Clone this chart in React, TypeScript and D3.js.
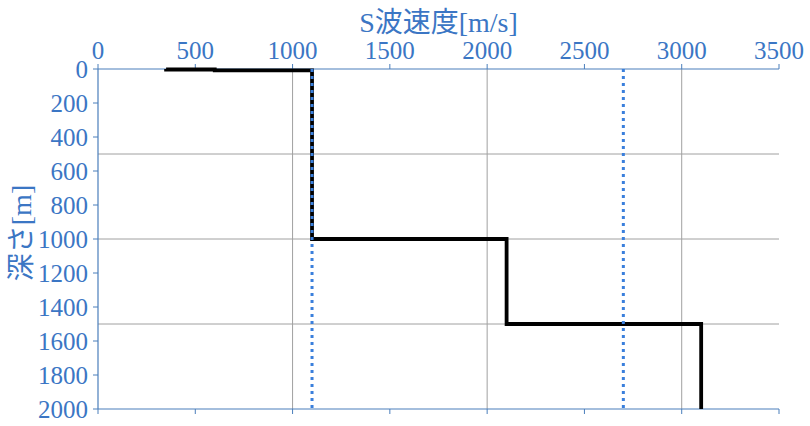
import React from "react";
import * as d3 from "d3";

const xTicks = [0, 500, 1000, 1500, 2000, 2500, 3000, 3500];
const yTicks = [0, 200, 400, 600, 800, 1000, 1200, 1400, 1600, 1800, 2000];
const xGrid = [1000, 2000, 3000];
const yGrid = [500, 1000, 1500];
const profileVs = [350, 350, 600, 600, 1100, 1100, 2100, 2100, 3100, 3100];
const profileDepth = [0, 3, 3, 8, 8, 1000, 1000, 1500, 1500, 2000];
const refLines = [1100, 2700];

const W = 810, H = 426;
const left = 98, right = 779, top = 69, bottom = 409;
const blueText = "#3b76c4";
const axisBlue = "#4a7ebb";

export default function App() {
  const x = d3.scaleLinear().domain([0, 3500]).range([left, right]);
  const y = d3.scaleLinear().domain([0, 2000]).range([top, bottom]);
  const pts: [number, number][] = profileVs.map((v, i) => [v, profileDepth[i]]);
  const line = d3.line<[number, number]>().x(d => x(d[0])).y(d => y(d[1]));
  const ts = { fontFamily: '"Liberation Serif", "Times New Roman", serif' };
  const cjk = { fontFamily: '"Liberation Serif", "Noto Sans CJK JP", serif' };
  return (
    <svg width={W} height={H} style={{ position: "absolute", left: 0, top: 0, background: "#fff" }}>
      {xGrid.map(v => (
        <line key={"xg" + v} x1={x(v)} x2={x(v)} y1={top} y2={bottom} stroke="#a0a0a0" strokeWidth={1} />
      ))}
      {yGrid.map(v => (
        <line key={"yg" + v} x1={left} x2={right} y1={y(v)} y2={y(v)} stroke="#a0a0a0" strokeWidth={1} />
      ))}
      <line x1={left} x2={right} y1={top} y2={top} stroke={axisBlue} strokeWidth={1.2} />
      {xTicks.map(v => (
        <line key={"xt" + v} x1={x(v)} x2={x(v)} y1={top - 5} y2={top} stroke={axisBlue} strokeWidth={1} />
      ))}
      <line x1={left} x2={right} y1={bottom} y2={bottom} stroke={axisBlue} strokeWidth={1.2} />
      {xTicks.map(v => (
        <line key={"xb" + v} x1={x(v)} x2={x(v)} y1={bottom} y2={bottom + 5} stroke={axisBlue} strokeWidth={1} />
      ))}
      <line x1={left} x2={left} y1={top} y2={bottom} stroke={axisBlue} strokeWidth={1.2} />
      {yTicks.map(v => (
        <line key={"yt" + v} x1={left - 5} x2={left} y1={y(v)} y2={y(v)} stroke={axisBlue} strokeWidth={1} />
      ))}
      {xTicks.map(v => (
        <text key={"xl" + v} x={x(v)} y={top - 10} textAnchor="middle" style={ts} fontSize={25} fill={blueText}>{v}</text>
      ))}
      {yTicks.map(v => (
        <text key={"yl" + v} x={left - 10} y={y(v) + 8.5} textAnchor="end" style={ts} fontSize={25} fill={blueText}>{v}</text>
      ))}
      <path d={line(pts) || ""} fill="none" stroke="#000" strokeWidth={3.8} strokeLinejoin="miter" />
      {refLines.map(v => (
        <line key={"rl" + v} x1={x(v)} x2={x(v)} y1={top} y2={bottom} stroke="#3a7fdc" strokeWidth={3} strokeDasharray="3,4" />
      ))}
      <text x={(left + right) / 2} y={32} textAnchor="middle" style={cjk} fontSize={28} fill={blueText}>S波速度[m/s]</text>
      <text transform="translate(31,233) rotate(-90)" textAnchor="middle" style={cjk} fontSize={28} fill={blueText}>深さ[m]</text>
    </svg>
  );
}
